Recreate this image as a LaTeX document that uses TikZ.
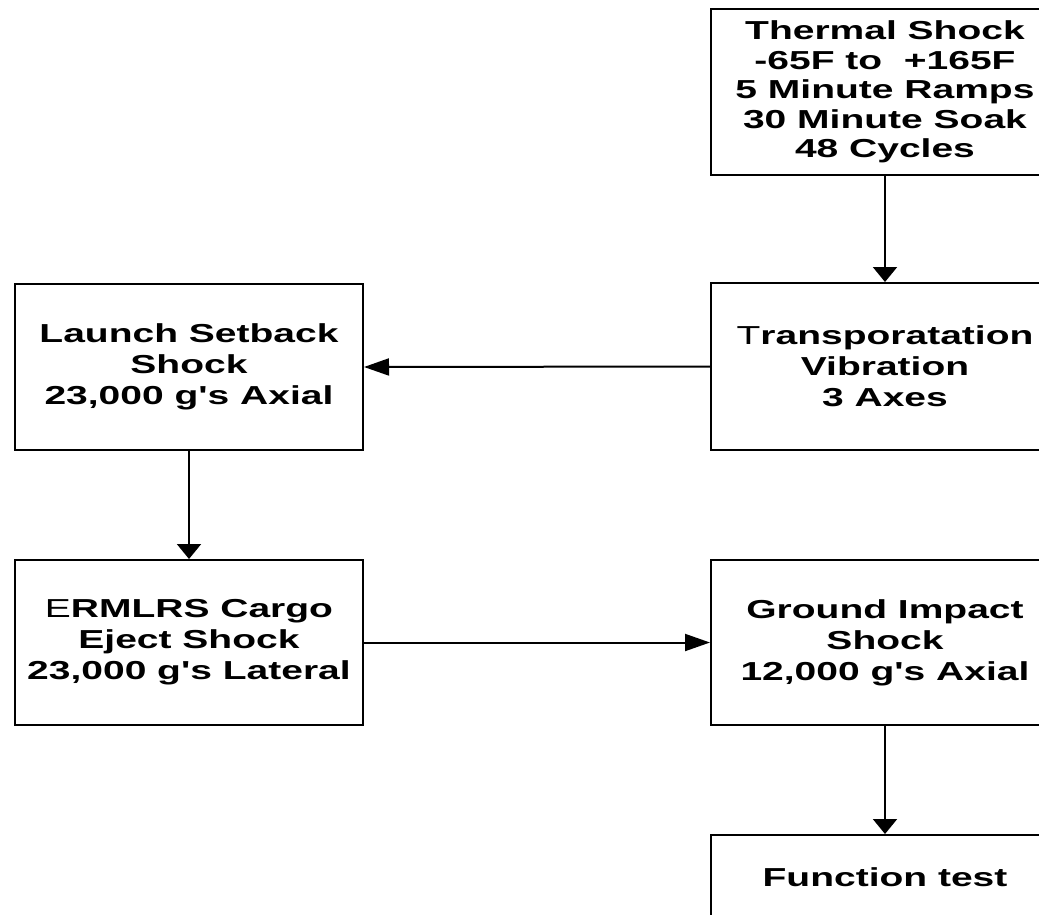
\documentclass[tikz,border=0pt]{standalone}
\usepackage{fontspec}
\setmainfont{Liberation Sans}[FakeStretch=1.5,Ligatures=TeXOff]
\usetikzlibrary{arrows.meta}

\begin{document}
\begin{tikzpicture}[x=1pt,y=-1pt,
  stage/.style={draw, line width=2pt, minimum width=348pt, minimum height=166pt,
    inner sep=0pt, align=center, font=\fontsize{26}{31}\selectfont\bfseries},
  down/.style={line width=2pt, -{Triangle[length=15pt,width=24pt]}},
  across/.style={line width=2pt, -{Triangle[length=25pt,width=17pt]}}]
%% The page is the reference frame; the right column runs off its edge
    \useasboundingbox (0,0) rectangle (1039,914);
    \clip (0,0) rectangle (1039,914);
%% Right column of test stages
    \node [stage, font=\fontsize{26}{29.5}\selectfont\bfseries] (thermal) at (885,92)
      {Thermal Shock\\-65F to\ \ +165F\\5 Minute Ramps\\30 Minute Soak\\48 Cycles};
    \node [stage, minimum height=167pt] (transport) at (885,366.5)
      {{\mdseries T}ransporatation\\Vibration\\3 Axes};
%% Left column
    \node [stage] (setback) at (189,367)
      {Launch Setback\\Shock\\23,000 g's Axial};
    \node [stage, minimum height=165pt] (eject) at (189,642.5)
      {{\mdseries E}RMLRS Cargo\\Eject Shock\\23,000 g's Lateral};
%% Back to the right column
    \node [stage, minimum height=165pt] (impact) at (885,642.5)
      {Ground Impact\\Shock\\12,000 g's Axial};
    \node [stage, minimum height=84pt] (function) at (885,877)
      {Function test};
%% Flow of the sequence
    \draw [down] (thermal) -- (transport);
    \draw [across] (transport.west) -- (setback.east);
    \draw [down] (setback) -- (eject);
    \draw [across] (eject.east) -- (impact.west);
    \draw [down] (impact) -- (function);
\end{tikzpicture}
\end{document}
